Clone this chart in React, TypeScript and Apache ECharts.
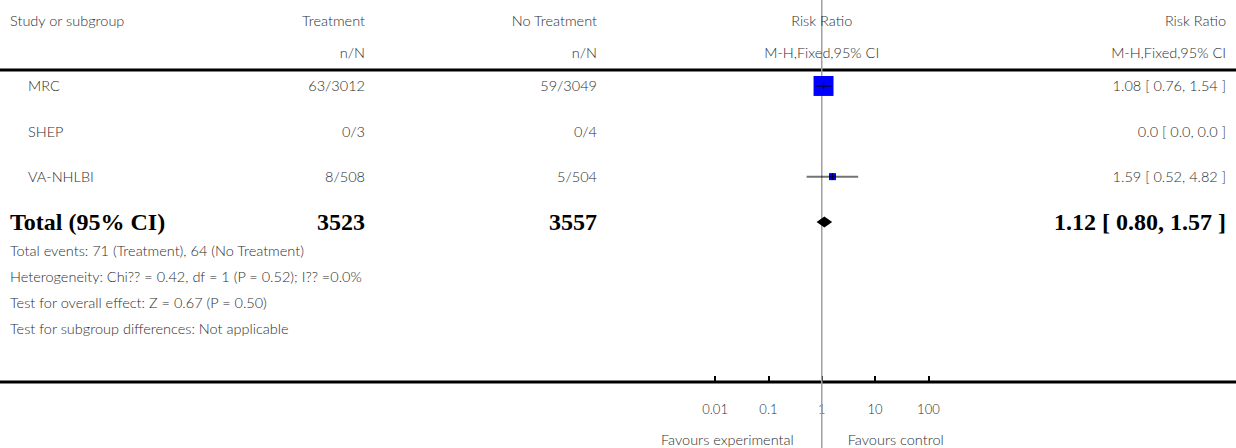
import React, { useEffect, useRef } from "react";
import * as echarts from "echarts";

// ---------- data ----------
const studies = ["MRC", "SHEP", "VA-NHLBI"];
const treatEvents = [63, 0, 8];
const treatTotal = [3012, 3, 508];
const ctrlEvents = [59, 0, 5];
const ctrlTotal = [3049, 4, 504];
const riskRatio = [1.08, 0, 1.59];
const ciLow = [0.76, 0, 0.52];
const ciHigh = [1.54, 0, 4.82];
const weights = [92.1, 0, 7.9];

const totalLabel = "Total (95% CI)";
const totalTreat = 3523;
const totalCtrl = 3557;
const totalRR = 1.12;
const totalLow = 0.8;
const totalHigh = 1.57;

const footnotes = [
  "Total events: 71 (Treatment), 64 (No Treatment)",
  "Heterogeneity: Chi?? = 0.42, df = 1 (P = 0.52); I?? =0.0%",
  "Test for overall effect: Z = 0.67 (P = 0.50)",
  "Test for subgroup differences: Not applicable",
];

const tickValues = [0.01, 0.1, 1, 10, 100];
const tickLabels = ["0.01", "0.1", "1", "10", "100"];
const headerRow1 = ["Study or subgroup", "Treatment", "No Treatment", "Risk Ratio", "Risk Ratio"];
const headerRow2 = ["", "n/N", "n/N", "M-H,Fixed,95% CI", "M-H,Fixed,95% CI"];
const favourLeft = "Favours experimental";
const favourRight = "Favours control";

// ---------- layout ----------
const W = 1236;
const H = 448;
const FOREST_LEFT = 715.1;
const FOREST_W = 213.3;
const FOREST_CENTER = FOREST_LEFT + FOREST_W / 2;
const ROW_TOP = 63.3;
const ROW_H = 45.33;
const AXIS_Y = 382;
const rowCats = [...studies, totalLabel];
const rowY = (i: number) => ROW_TOP + ROW_H * (i + 0.5);

const SANS = "Lato";
const SERIF = "Liberation Serif";
const TEXT = "#2e2e2e";
const SANS_SIZE = 14.5;

const fmt = (v: number) => (v === 0 ? "0.0" : v.toFixed(2));
const ciText = (r: number, l: number, h: number) => `${fmt(r)} [ ${fmt(l)}, ${fmt(h)} ]`;

function txt(text: string, x: number, y: number, align: string, opts: any = {}) {
  return {
    type: "text",
    silent: true,
    style: {
      text,
      x,
      y,
      textAlign: align,
      textVerticalAlign: "middle",
      fontFamily: opts.family || SANS,
      fontSize: opts.size || SANS_SIZE,
      fontWeight: opts.weight || 300,
      fill: opts.fill || TEXT,
    },
    z: 10,
  };
}

export default function App() {
  const ref = useRef<HTMLDivElement>(null);

  useEffect(() => {
    document.body.style.margin = "0";
    if (!ref.current) return;
    const chart = echarts.init(ref.current, undefined, { renderer: "svg" });

    const colX = [10, 365, 597, FOREST_CENTER, 1226];
    const colAlign = ["left", "right", "right", "center", "right"];
    const graphics: any[] = [];

    headerRow1.forEach((h, i) => graphics.push(txt(h, colX[i], 20, colAlign[i])));
    headerRow2.forEach((h, i) => h && graphics.push(txt(h, colX[i], 52, colAlign[i])));

    // rules
    graphics.push({
      type: "line",
      silent: true,
      shape: { x1: 0, y1: 70, x2: W, y2: 70 },
      style: { stroke: "#000", lineWidth: 3 },
    });
    graphics.push({
      type: "line",
      silent: true,
      shape: { x1: 0, y1: AXIS_Y, x2: W, y2: AXIS_Y },
      style: { stroke: "#000", lineWidth: 3 },
    });

    studies.forEach((s, i) => {
      const y = rowY(i);
      graphics.push(txt(s, 28, y, "left"));
      graphics.push(txt(`${treatEvents[i]}/${treatTotal[i]}`, 365, y, "right"));
      graphics.push(txt(`${ctrlEvents[i]}/${ctrlTotal[i]}`, 597, y, "right"));
      graphics.push(txt(ciText(riskRatio[i], ciLow[i], ciHigh[i]), 1226, y, "right"));
    });

    const ty = rowY(studies.length);
    const bold = { family: SERIF, size: 24, weight: "bold", fill: "#000" };
    graphics.push(txt(totalLabel, 10, ty, "left", bold));
    graphics.push(txt(String(totalTreat), 365, ty, "right", bold));
    graphics.push(txt(String(totalCtrl), 597, ty, "right", bold));
    graphics.push(txt(ciText(totalRR, totalLow, totalHigh), 1226, ty, "right", bold));

    footnotes.forEach((f, i) => graphics.push(txt(f, 10, 250 + 26 * i, "left")));

    graphics.push(txt(favourLeft, FOREST_CENTER - 28, 439, "right", { size: 14.5 }));
    graphics.push(txt(favourRight, FOREST_CENTER + 26, 439, "left", { size: 14.5 }));

    const studyPoints = studies
      .map((_, i) => [riskRatio[i], i, weights[i]])
      .filter((d) => d[0] > 0);
    const ciData = studies
      .map((_, i) => [ciLow[i], i, ciHigh[i], riskRatio[i]])
      .filter((d) => d[3] > 0);

    const logAxis = (gridIndex: number, show: boolean) => ({
      type: "log",
      logBase: 10,
      min: tickValues[0],
      max: tickValues[tickValues.length - 1],
      gridIndex,
      show,
    });

    const option: any = {
      animation: false,
      grid: [
        { left: FOREST_LEFT, width: FOREST_W, top: 0, height: AXIS_Y },
        { left: FOREST_LEFT, width: FOREST_W, top: 0, height: H },
        { left: FOREST_LEFT, width: FOREST_W, top: ROW_TOP, height: ROW_H * rowCats.length },
      ],
      xAxis: [
        {
          ...logAxis(0, true),
          position: "bottom",
          axisLine: { show: false },
          axisTick: { show: true, inside: true, length: 6, lineStyle: { color: "#000", width: 2 } },
          splitLine: { show: false },
          axisLabel: {
            margin: 20,
            fontFamily: SANS,
            fontWeight: 300,
            fontSize: 13,
            color: TEXT,
            formatter: (v: number) => {
              const idx = tickValues.findIndex((t) => Math.abs(Math.log10(t) - Math.log10(v)) < 1e-6);
              return idx >= 0 ? tickLabels[idx] : "";
            },
          },
        },
        { ...logAxis(1, false) },
        { ...logAxis(2, false) },
      ],
      yAxis: [
        { type: "value", gridIndex: 0, show: false, min: 0, max: 1 },
        { type: "value", gridIndex: 1, show: false, min: 0, max: 1 },
        { type: "category", gridIndex: 2, show: false, data: rowCats, inverse: true },
      ],
      series: [
        {
          type: "line",
          xAxisIndex: 1,
          yAxisIndex: 1,
          data: [
            [1, 0],
            [1, 1],
          ],
          symbol: "none",
          silent: true,
          lineStyle: { color: "#a0a0a0", width: 1.5 },
          z: 1,
        },
        {
          type: "scatter",
          xAxisIndex: 2,
          yAxisIndex: 2,
          data: studyPoints,
          symbol: "rect",
          symbolSize: (d: number[]) => Math.max(7, 2.08 * Math.sqrt(d[2])),
          itemStyle: { color: "#0000ff", opacity: 1 },
          silent: true,
          z: 2,
        },
        {
          type: "custom",
          xAxisIndex: 2,
          yAxisIndex: 2,
          data: ciData,
          encode: { x: [0, 2, 3], y: 1 },
          silent: true,
          z: 3,
          renderItem: (params: any, api: any) => {
            const r = api.value(1);
            const a = api.coord([api.value(0), r]);
            const b = api.coord([api.value(2), r]);
            const e = api.coord([api.value(3), r]);
            return {
              type: "group",
              children: [
                {
                  type: "line",
                  shape: { x1: a[0], y1: a[1], x2: b[0], y2: b[1] },
                  style: { stroke: "rgba(0,0,0,0.55)", lineWidth: 2 },
                },
                {
                  type: "line",
                  shape: { x1: e[0], y1: e[1] - 3.5, x2: e[0], y2: e[1] + 3.5 },
                  style: { stroke: "rgba(0,0,0,0.7)", lineWidth: 1.5 },
                },
              ],
            };
          },
        },
        {
          type: "custom",
          xAxisIndex: 2,
          yAxisIndex: 2,
          data: [[totalLow, studies.length, totalHigh, totalRR]],
          encode: { x: [0, 2, 3], y: 1 },
          silent: true,
          z: 3,
          renderItem: (params: any, api: any) => {
            const r = api.value(1);
            const a = api.coord([api.value(0), r]);
            const b = api.coord([api.value(2), r]);
            const e = api.coord([api.value(3), r]);
            const hh = 5.5;
            return {
              type: "polygon",
              shape: {
                points: [
                  [a[0], a[1]],
                  [e[0], e[1] - hh],
                  [b[0], b[1]],
                  [e[0], e[1] + hh],
                ],
              },
              style: { fill: "#000" },
            };
          },
        },
      ],
      graphic: graphics,
    };

    chart.setOption(option);
    return () => chart.dispose();
  }, []);

  return <div ref={ref} style={{ width: W, height: H }} />;
}
